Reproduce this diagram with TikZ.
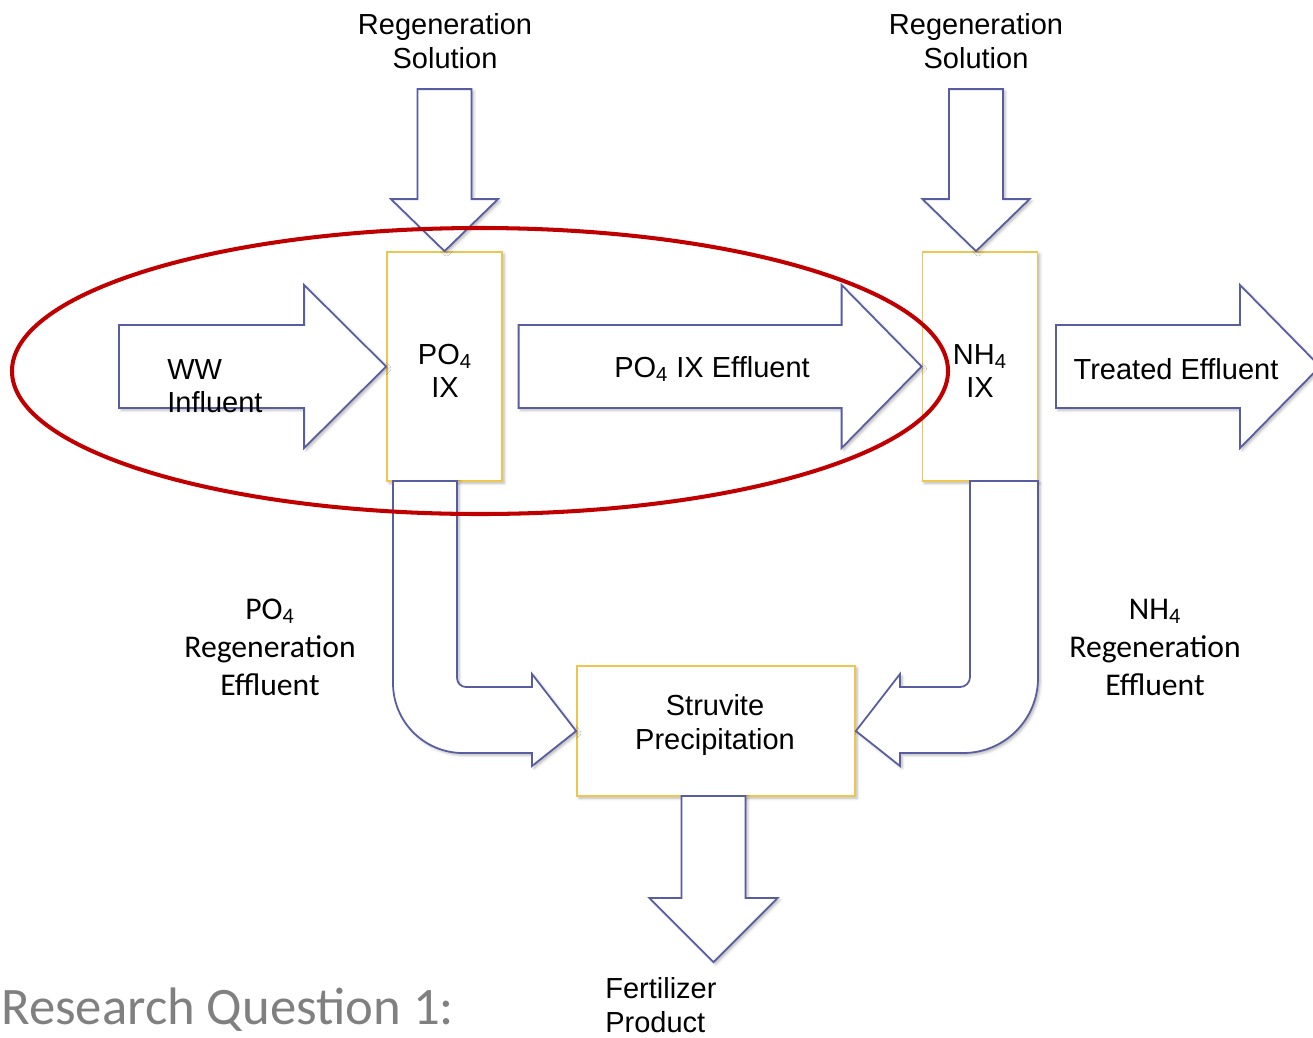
\documentclass[tikz,border=0pt]{standalone}
\usepackage{fontspec}
\setmainfont{Liberation Sans}
\newfontfamily\calfont{Carlito}
\usetikzlibrary{calc,shadows.blur}
\definecolor{flowline}{RGB}{88,92,160}
\definecolor{unitline}{RGB}{236,198,78}
\definecolor{ringred}{RGB}{192,0,0}
\definecolor{rqgray}{RGB}{128,128,128}
% block arrow pointing right: #1 tip, #2 total length, #3 head length
\newcommand{\RArrow}[3]{%
  \draw[flow] ($(#1)+(-#2,-41.5)$) -- ($(#1)+(-#3,-41.5)$) -- ($(#1)+(-#3,-81.5)$) -- (#1)
    -- ($(#1)+(-#3,81.5)$) -- ($(#1)+(-#3,41.5)$) -- ($(#1)+(-#2,41.5)$) -- cycle;}
% block arrow pointing down: #1 tip, #2 total length, #3 head length, #4 half shaft, #5 half head
\newcommand{\DArrow}[5]{%
  \draw[flow] ($(#1)+(-#4,-#2)$) -- ($(#1)+(#4,-#2)$) -- ($(#1)+(#4,-#3)$) -- ($(#1)+(#5,-#3)$)
    -- (#1) -- ($(#1)+(-#5,-#3)$) -- ($(#1)+(-#4,-#3)$) -- cycle;}

\begin{document}
\begin{tikzpicture}[
    x=0.2mm, y=-0.2mm,
    flow/.style={draw=flowline, fill=white, line width=1pt, line join=miter,
      blur shadow={shadow xshift=1.2pt, shadow yshift=-1.2pt, shadow blur radius=1.6pt, shadow opacity=30}},
    unit/.style={draw=unitline, fill=white, line width=1pt, inner sep=0pt,
      blur shadow={shadow xshift=1.2pt, shadow yshift=-1.2pt, shadow blur radius=1.6pt, shadow opacity=30}},
    lbl/.style={inner sep=0pt, align=center, font={\fontsize{16.5}{19}\selectfont}},
    side/.style={inner sep=0pt, align=center, font={\calfont\fontsize{18}{21.6}\selectfont}},
    ring/.style={draw=ringred, line width=2.3pt},
  ]
  \useasboundingbox (0,0) rectangle (1313,1037);

  %% ================= the two ion exchange columns and the reactor =================
  \node[unit, minimum width=23mm, minimum height=45.8mm] (po4) at (444.5,366.5) {};
  \node[unit, minimum width=23mm, minimum height=45.8mm] (nh4) at (980,366.5) {};
  \node[unit, minimum width=55.6mm, minimum height=26mm] (struv) at (716,731) {};

  \coordinate (po4in) at (po4.north);
  \coordinate (nh4in) at ($(nh4.north)+(-4,0)$);
  \coordinate (outlet) at (1320,366.5);
  \coordinate (product) at (713.5,962);

  %% ================= main line =================
  \RArrow{po4.west}{267}{82}
  \RArrow{nh4.west}{403}{80}
  \RArrow{outlet}{264}{80}

  % regeneration feeds
  \DArrow{po4in}{162}{52}{27}{53.5}
  \DArrow{nh4in}{162}{52}{27}{53.5}

  % product leaves the reactor
  \DArrow{product}{166}{64}{32}{64}

  %% ================= regeneration effluents (bent arrows) =================
  \draw[flow] (393,481) -- (393,683) to[out=-90,in=180] (463,753) -- (532,753) -- (532,766)
    -- (struv.west) -- (532,674) -- (532,687) -- (466,687) to[out=180,in=-90] (457,678) -- (457,481) -- cycle;
  \draw[flow] (1038,481) -- (1038,678) to[out=-90,in=0] (963,753) -- (900,753) -- (900,766)
    -- (struv.east) -- (900,674) -- (900,687) -- (960,687) to[out=0,in=-90] (970,677) -- (970,481) -- cycle;

  %% ================= labels =================
  \node[lbl] (po4lbl) at (445,371) {PO\textsubscript{4}\\IX};
  \node[lbl] (nh4lbl) at (980,371) {NH\textsubscript{4}\\IX};
  \node[lbl] (struvlbl) at (715,725) {Struvite\\Precipitation};

  \node[lbl] (regpo4) at (445,41) {Regeneration\\Solution};
  \node[lbl] (regnh4) at (976,41) {Regeneration\\Solution};
  \node[lbl, align=left, anchor=west] (ww) at (167,386) {WW\\Influent};
  \node[lbl] (po4eff) at (712,369) {PO\textsubscript{4} IX Effluent};
  \node[lbl] (treated) at (1176,369) {Treated Effluent};
  \node[lbl, align=left, anchor=west] (fert) at (605,1005) {Fertilizer\\Product};

  \node[side] (po4reg) at (270,647) {PO\textsubscript{4}\\Regeneration\\Effluent};
  \node[side] (nh4reg) at (1155,647) {NH\textsubscript{4}\\Regeneration\\Effluent};

  \node[anchor=west, inner sep=0pt, text=rqgray, font={\calfont\fontsize{30}{36}\selectfont}] (rq) at (1,1010) {Research Question 1:};

  % the part of the process that the question is about
  \draw[ring] (480,371) ellipse [x radius=93.6mm, y radius=28.6mm];

\end{tikzpicture}
\end{document}
